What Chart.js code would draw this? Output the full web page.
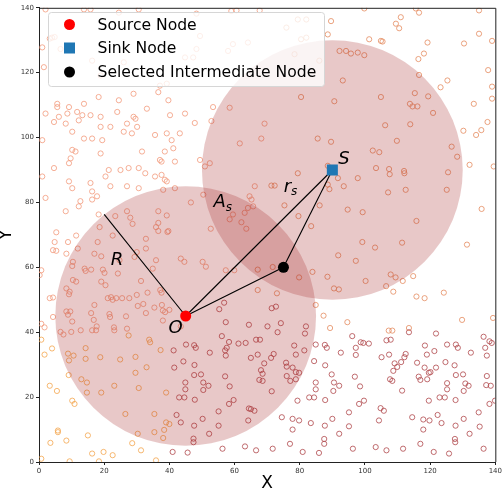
<!DOCTYPE html>
<html>
<head>
<meta charset="utf-8">
<script src="https://cdn.jsdelivr.net/npm/chart.js@4.4.1/dist/chart.umd.min.js"></script>
<style>
  html, body { margin: 0; padding: 0; background: #fff; }
</style>
</head>
<body>
<canvas id="chart" width="504" height="490"></canvas>
<script>
// ===== data =====
const sourceNode = [45, 45];
const sinkNode = [90, 90];
const relayNode = [75, 60];
const rEnd = [20, 76.3];
const coverRadius = 40;

const salmonPts = [
  [18.3,112.5],[24.5,111.5],[29,113.5],[5.6,110.4],[5.6,109.4],[9.2,109.4],[13.8,110.4],[2,107.4],[6.1,106.4],[8.7,107.4],
  [11.7,107.9],[13.3,106.9],[15.8,106.9],[18.9,106.4],[24,107.9],[29,106.4],[33.1,108.9],[4.6,104.8],[8.2,104.3],[12.2,105.3],
  [18.9,103.3],[21.9,103.3],[27,104.3],[29.6,105.8],[30.1,103.3],[10.2,101.8],[13.8,99.7],[16.3,99.7],[19.4,99.2],[1,99.2],
  [26,101.8],[28.5,101.3],[10.2,96.2],[11.2,95.7],[18.9,95.1],[31.6,95.7],[9.7,93.6],[9.2,92.1],[1,88],[4.6,90.6],
  [21.4,90],[25,90],[27.5,90.6],[30.6,90.6],[20.4,88],[32.6,89],[9.2,86.5],[10.2,84.4],[15.8,86],[16.3,83.4],
  [21.9,85],[27,85],[30.6,84.4],[2,81.4],[17.8,81.9],[12.7,80.4],[16.3,80.9],[8.2,77.3],[12.2,78.8],[18.3,76.3],
  [23.4,75.8],[27,77.3],[28,75.3],[2,139.5],[13.8,139.5],[15.8,139.5],[24.5,138.5],[30.6,139.5],[4,130.8],[1,127.8],
  [1.5,121.7],[6.6,127.3],[16.3,123.7],[18.9,119.1],[26,123.2],[3.3,130.5],[4.8,131],
  [48.3,138.2],[59,139],[60.6,139.2],[67.7,139.2],[49.4,131.3],[48.3,127.3],[44.8,124.7],[47.3,124.7],[58,126.7],[59.5,128.8],
  [64.1,129.3],[39.2,116.6],[37.1,116],[36.6,114],[39.7,111.5],[53.4,109.4],[58.5,109.2],[44.8,107.4],[40.2,106.9],[47.8,104.5],
  [52.9,105.1],[69.2,104.3],[35.6,100.8],[39.2,101.3],[43.2,101.3],[40.7,99.2],[61.6,98.2],[68.2,99.7],[38.6,95.7],[41.2,96.7],
  [37.1,93.1],[37.6,92.6],[41.7,92.6],[49.4,93.1],[52.4,92.1],[50.9,91.1],[35.6,88],[38.6,87],[37.6,88.5],[39.2,86.5],
  [41.7,84.4],[38.1,83.9],[66.2,85],[50.4,82.4],[64.6,81.9],[65.2,80.9],[64.1,78.3],[65.7,78.8],[36.6,77.3],[39.2,76],
  [59.5,76.3],[58.5,74.8],[62.1,73.9],[63.1,76.8],[36.6,73.7],[39.7,71.2],[36.6,71.2],[63.6,71.9],
  [28.7,73.4],[32.8,68.8],[35.9,72.4],[39.4,70.9],[46.6,80],[52.7,71.9],[18,67.8],[22.6,69.8],[18.6,72.4],[5.3,70.8],
  [8.9,67.8],[4.8,67.8],[11.4,69.8],
  [4.3,65.3],[5.3,65.1],[8.4,64.2],[11.9,65.8],[0.7,59.1],[0.2,57.6],[14,59.6],[16,59.3],[14.3,58.9],[19.6,59.3],
  [20.1,58.3],[10.4,61.7],[10.2,60.4],[17,64.2],[19.1,63.4],[24.2,58.1],[24.7,62.2],[29.3,63.2],[30,64.7],[32.8,65.8],
  [34.9,59.6],[35.9,62.2],[43.5,62.7],[44.6,61.7],[50.2,61.7],[51.2,60.2],[57.3,59.1],[59.9,59.1],[10.4,56.1],[11.4,55.6],
  [8.4,53.5],[9.4,52.5],[9.2,51.7],[3.3,50.5],[4.3,50.7],[17,48.4],[19.1,55.6],[20.4,54.5],[22.6,50],[21.1,50.5],
  [22.1,50.8],[23.7,50.5],[25.5,50.5],[27.7,50.5],[30,51.5],[30.3,48.1],[32,48.7],[33.3,52.2],[31.3,55.8],[35.4,47.6],
  [37.2,53],[37.6,52.2],[37.7,48.4],[38,46.7],[38.7,46.2],[40,46.9],[43.5,41.8],[8.4,46.4],[8.9,45.4],[9.6,46.4],
  [10.2,43.3],[6.6,40.1],[7.5,39.3],[9.9,40.1],[0.7,42.6],[1.7,41.5],[4.3,44.7],[12.8,40.6],[16,45.9],[16.8,43.8],
  [16.3,40.6],[17.5,40.6],[17.7,41.8],[21.6,45.6],[21.8,44.7],[23,41.5],[23.1,40.6],[26.7,44.9],[27,41.1],[38,43.6],
  [32.8,45.9]
];

const yellowPts = [
  [27.5,39],[33.8,37.7],[34.1,36.9],[0.7,37.7],[1.7,33.1],[4,35],[8.9,33.4],[9.2,31.3],[10.6,32.8],[14.3,35.1],
  [14.3,31.8],[18.8,32.3],[24.9,31.6],[29.6,32.4],[29.6,27.5],[33,29.2],[37.3,34.5],[3.3,23.5],[5.5,21.9],[9.1,26.8],
  [13,25.5],[14.7,24.5],[14.7,21.4],[19.1,21.4],[23.1,23.5],[30.6,22.8],[39,21.4],[10.2,18.9],[10.9,17.9],[26.5,14.8],
  [35.4,14.8],[5.8,9.7],[5.8,9.2],[8.4,6.6],[3.5,5.9],[15,8.2],[16.3,2.6],[19.8,3.1],[22.6,2.1],[28.6,5.8],
  [31.3,3.6],[30.3,8.7],[35.4,9.2],[35.9,0.5],[0.7,1],[9.4,0.2],[18.4,0.2],[38.1,7.4],[38.4,9.9],[39,12.2],
  [40,11.7]
];

const orangePts = [
  [67.1,59.3],[71.7,60.1],[79.8,56.9],[83.9,58.6],[88.5,57.1],[91.8,63.7],[97.2,62],[100.2,55.8],[103.1,66.1],[107.9,57.8],
  [109.4,56.9],[106.5,54.2],[108.7,52.5],[111.6,55.8],[114.8,57.3],[90.5,53.5],[92,53.2],[115.8,51],[118.3,50.5],[124.2,52.2],
  [67.1,53],[73,52],[84.9,48.4],[87.3,45.1],[89.3,41.3],[94.6,43.1],[108.4,40.5],[107.3,40.5],[113.5,41.3],[129.8,43.8],
  [139.3,44.4],[99.2,67.8],[111.4,67.6],[131.3,67],
  [99.8,139.8],[79.4,136.4],[82,136.4],[75.9,133.9],[80.4,130.3],[82,130.8],[78.4,125.7],[86,123.7],[89.6,135.9],[88.6,131.8],
  [101.3,130.3],[104.9,129.8],[92.2,126.7],[94.2,126.7],[95.7,125.9],[97.8,126.2],[99.8,125.4],[93.2,117.6],[80.4,112.5],[90.6,111.2],
  [104.9,112.5],[85.5,99.7],[89.6,98.7],[102.4,96],[104.4,95.5],[103.4,90.6],[88.6,91.3],[79.4,89],[71.3,85.2],[72.3,85.2],
  [88.6,85.5],[91.7,87.5],[93.5,85],[97.8,87.5],[89.1,84.1],[75.3,79.1],[86.1,79.1],[79.6,75.8],[94.7,77.8],[99.3,77],
  [83.5,72.7],
  [111,137.1],[116.6,138.5],[115.6,139.8],[135,139.2],[109.5,135.1],[110.5,133.7],[135,132],[139,129.8],[119.2,129.3],[130.4,129],
  [105.4,129.6],[118.1,125.9],[116.4,124.2],[137.8,120.8],[116.6,119.3],[125.3,117.6],[123.2,115.5],[139,115.7],[115.3,113.7],[119.4,112.7],
  [139,112],[113.8,110.4],[114.6,109.6],[116.1,109.6],[133.4,110.4],[120.9,107.6],[137.6,104.8],[113.9,104.1],[106.2,103.8],[130.2,102.1],
  [135.7,102.3],[134.1,100.8],[109.8,99],[126.6,97.2],[128.3,94.1],[132.1,91.6],[139.5,91.1],[107.4,90.3],[107.6,88.7],[112,89.7],
  [112.1,89],[125.5,89.3],[107.1,83.1],[112.5,83.9],[125.1,83.9],[135.8,78],[115.8,74.3]
];

const redPts = [
  [45.1,36.2],[47.6,36],[48.1,35.2],[44.3,31],[41.5,29.1],[41.3,34.4],[47.7,29.9],[47.6,26.8],[49.7,27],[52.4,33.7],
  [50.4,24.5],[50.4,22.2],[52,23.5],[44.9,24.5],[44.9,22.4],[43,19.9],[44.6,19.9],[47.8,19.2],[56.1,38.8],[57.6,35.2],
  [58.3,37],[61.2,36.5],[57.1,34.4],[57.3,32.8],[57.3,43.1],[55.3,47.1],[56.8,49.1],[57.1,26.4],[58.5,23.3],[59.7,19.1],
  [58.3,17.9],[55.1,15.6],[55.1,11.2],[52.2,8.7],[50.2,13.3],[47.6,11.2],[43.5,12.2],[42.2,14.5],[47.4,7.2],[47.4,6.1],
  [41,3.1],[45.6,2.9],[56.3,4.1],[63.2,4.8],[64.4,16.5],[64.2,12.8],[65,32.1],[63.4,36.7],[64.4,42.3],
  [71.4,47.4],[72.7,47.9],[70.1,41.8],[74.2,42.8],[81.9,41.8],[81.6,39.6],[73.2,40],[66.6,37.7],[67.8,37.7],[78.3,35.9],
  [84.9,36.2],[87.7,36.1],[88.3,35.2],[92.6,33.7],[96.1,38.8],[97.2,35.2],[98.7,36.9],[99.5,36.7],[101.2,36.5],[97.2,33],
  [81.4,34.4],[78.8,33.1],[72,33.3],[71.2,32.1],[67.1,33.1],[84.4,31.1],[75.8,30.6],[69.1,30.4],[68.1,28.3],[68.6,27.2],
  [87.8,29.8],[89.8,27],[96.9,26.3],[98.5,23.3],[84.9,24.5],[84.9,22.4],[90.5,24.5],[92.1,23.5],[90.3,21.9],[76,29.4],
  [77.8,29.1],[78.8,27.7],[79.8,27.5],[76,26.5],[77.1,25],[78.8,25.5],[71.4,21.8],[67.6,25.3],[68.6,25],[65,16.3],
  [66.1,15.8],[82.9,19.9],[84.4,19.9],[87.8,19.1],[79.3,18.9],[99.7,18.9],[98.2,17.9],[95.1,15.3],[104.8,16.6],[105.8,15.8],
  [104.3,12.8],[74.5,13.8],[77.8,13.3],[79.8,12.8],[83.4,12],[90,13.3],[95.1,11],[77.8,10],[87.7,11.2],[92.1,8.7],
  [87.5,7.1],[87.5,5.6],[77,5.6],[80.9,3.1],[85.9,2.8],[71.7,4.1],[66.6,3.6],[96.3,4.1],[103.3,4.6],[106.6,3.6],
  [111.7,4.1],[117,5.6],[121.1,3.1],[125.8,2.6],[127.6,7.1],[127.7,6.1],[132.1,8.7],[136.4,4.1],[135.2,10.9],[134.9,15.3],
  [130.3,13.3],[127.8,11.2],[123.5,12],[122.3,14.5],[119.8,12.8],[117.9,13.1],[117.9,10],[114.5,13.8],[111.4,22],[119.6,18.9],
  [122.9,19.9],[124.5,19.9],[127.8,19.1],[125.2,24.3],[125.2,22.4],[130.3,21.9],[130.8,24.2],[131.8,23.5],[130.1,27],[127.9,26.8],
  [137.4,26.5],[137.2,23.7],[138.6,23.5],[138.2,17.9],[139.9,18.9],[109.9,29.3],[107.7,25.5],[108.4,25],[108.7,28.1],[109.1,30.4],
  [111.1,30.8],[112.1,32.3],[112.5,33.3],[107.4,33.1],[105.1,32.3],[106.6,37.5],[107.9,37.7],[113.5,40],[121.8,39.6],[118.4,35.9],
  [121.3,34.2],[119,33.1],[124.7,30.8],[127.5,29.8],[121.8,29.1],[116,30.6],[118.3,29.1],[119.6,27.5],[120.1,27.7],[116.5,26.3],
  [117,25.3],[119.1,25.5],[125.2,36.2],[127.9,36.2],[128.5,35.2],[132.5,33.7],[136.4,38.6],[136.9,35.2],[137.4,32.8],[138.2,37.2],
  [138.9,36.7]
];

const xTicks = [0, 20, 40, 60, 80, 100, 120, 140];
const yTicks = [0, 20, 40, 60, 80, 100, 120, 140];
const legendLabels = ['Source Node', 'Sink Node', 'Selected Intermediate Node'];

// math labels in data units
const notes = [
  { text: 'R', sub: '', x: 23.9, y: 62.1 },
  { text: 'O', sub: '', x: 41.9, y: 41.3 },
  { text: 'A', sub: 's', x: 55.4, y: 79.9 },
  { text: 'r', sub: 's', x: 76.2, y: 84.8 },
  { text: 'S', sub: '', x: 93.6, y: 93.3 }
];

const toXY = arr => arr.map(([x, y]) => ({ x, y }));

const hollow = (pts, color) => ({
  type: 'scatter',
  data: toXY(pts),
  pointStyle: 'circle',
  pointRadius: 2.6,
  borderWidth: 0.8,
  borderColor: color,
  backgroundColor: 'rgba(0,0,0,0)'
});

const segment = (a, b) => ({
  type: 'scatter',
  data: toXY([a, b]),
  showLine: true,
  borderColor: '#000',
  borderWidth: 1.1,
  pointRadius: 0
});

// ===== plugins =====
// the two coverage discs go right above the last point layer
const discs = {
  id: 'discs',
  afterDatasetDraw(chart, args) {
    if (args.index !== 7) return;
    const { ctx, scales: { x, y } } = chart;
    ctx.save();
    ctx.fillStyle = 'rgba(165,42,42,0.26)';
    [sourceNode, sinkNode].forEach(([cx, cy]) => {
      const px = x.getPixelForValue(cx);
      const py = y.getPixelForValue(cy);
      const rx = x.getPixelForValue(cx + coverRadius) - px;
      const ry = py - y.getPixelForValue(cy + coverRadius);
      ctx.beginPath();
      ctx.ellipse(px, py, rx, ry, 0, 0, Math.PI * 2);
      ctx.fill();
    });
    ctx.restore();
  }
};

const frameAndNotes = {
  id: 'frameAndNotes',
  afterDraw(chart) {
    const { ctx, chartArea: a, scales: { x, y } } = chart;
    ctx.save();

    // notes
    ctx.fillStyle = '#000';
    ctx.textBaseline = 'middle';
    ctx.textAlign = 'center';
    notes.forEach(n => {
      const px = x.getPixelForValue(n.x);
      const py = y.getPixelForValue(n.y);
      ctx.font = 'italic 18px "DejaVu Sans"';
      const w = ctx.measureText(n.text).width;
      ctx.fillText(n.text, px, py);
      if (n.sub) {
        ctx.font = 'italic 12px "DejaVu Sans"';
        ctx.textAlign = 'left';
        ctx.fillText(n.sub, px + w / 2, py + 5);
        ctx.textAlign = 'center';
      }
    });

    // top + right spines
    ctx.strokeStyle = '#222';
    ctx.lineWidth = 1;
    ctx.beginPath();
    ctx.moveTo(a.left, a.top + 0.5);
    ctx.lineTo(a.right + 0.5, a.top + 0.5);
    ctx.lineTo(a.right + 0.5, a.bottom);
    ctx.stroke();

    // legend box, top-left inside axes
    const bx = 48, by = 12, bw = 276, bh = 74;
    ctx.fillStyle = 'rgba(255,255,255,0.8)';
    ctx.strokeStyle = '#d6d6d6';
    ctx.beginPath();
    ctx.roundRect(bx + 0.5, by + 0.5, bw, bh, 3);
    ctx.fill();
    ctx.stroke();

    const mx = 69.5;
    const rows = [24.5, 48, 72];
    ctx.fillStyle = '#ff0000';
    ctx.beginPath(); ctx.arc(mx, rows[0], 5.5, 0, Math.PI * 2); ctx.fill();
    ctx.fillStyle = '#1f77b4';
    ctx.fillRect(mx - 5.5, rows[1] - 5.5, 11, 11);
    ctx.fillStyle = '#000';
    ctx.beginPath(); ctx.arc(mx, rows[2], 5.5, 0, Math.PI * 2); ctx.fill();

    ctx.font = '15.6px "DejaVu Sans"';
    ctx.textAlign = 'left';
    ctx.fillStyle = '#000';
    legendLabels.forEach((t, i) => ctx.fillText(t, 97.5, rows[i] + 1));
    ctx.restore();
  }
};

// ===== chart =====
const tickFont = { family: 'DejaVu Sans', size: 7 };
const titleFont = { family: 'DejaVu Sans', size: 17, lineHeight: 1 };

new Chart(document.getElementById('chart'), {
  type: 'scatter',
  data: {
    datasets: [
      { type: 'scatter', data: toXY([sourceNode]), pointStyle: 'circle', pointRadius: 5.5, backgroundColor: '#ff0000', borderWidth: 0 },
      { type: 'scatter', data: toXY([sinkNode]), pointStyle: 'rect', pointRadius: 7.8, backgroundColor: '#1f77b4', borderWidth: 0 },
      { type: 'scatter', data: toXY([relayNode]), pointStyle: 'circle', pointRadius: 5.5, backgroundColor: '#000', borderWidth: 0 },
      segment(sourceNode, sinkNode),
      segment(sourceNode, relayNode),
      segment(relayNode, sinkNode),
      segment(sourceNode, rEnd),
      hollow(redPts, '#b0474b'),
      hollow(orangePts, '#e48c60'),
      hollow(salmonPts, '#f29a7c'),
      hollow(yellowPts, '#f4a64e')
    ]
  },
  options: {
    responsive: false,
    animation: false,
    layout: { padding: { top: 4, right: 6, left: 0, bottom: 0 } },
    plugins: {
      legend: { display: false },
      tooltip: { enabled: false }
    },
    scales: {
      x: {
        type: 'linear', min: 0, max: 140,
        afterBuildTicks: s => { s.ticks = xTicks.map(v => ({ value: v })); },
        afterFit: s => { s.height = 28; },
        ticks: { font: tickFont, color: '#333', padding: 2, maxRotation: 0 },
        grid: { drawOnChartArea: false, drawTicks: true, tickLength: 3, color: '#222' },
        border: { display: true, color: '#222', width: 1 },
        title: { display: true, text: 'X', font: titleFont, color: '#000', padding: { top: 0, bottom: -2 } }
      },
      y: {
        type: 'linear', min: 0, max: 140,
        afterBuildTicks: s => { s.ticks = yTicks.map(v => ({ value: v })); },
        afterFit: s => { s.width = 39; },
        ticks: { font: tickFont, color: '#333', padding: 2 },
        grid: { drawOnChartArea: false, drawTicks: true, tickLength: 3, color: '#222' },
        border: { display: true, color: '#222', width: 1 },
        title: { display: true, text: 'Y', font: titleFont, color: '#000', padding: { top: -2, bottom: 0 } }
      }
    }
  },
  plugins: [discs, frameAndNotes]
});
</script>
</body>
</html>
